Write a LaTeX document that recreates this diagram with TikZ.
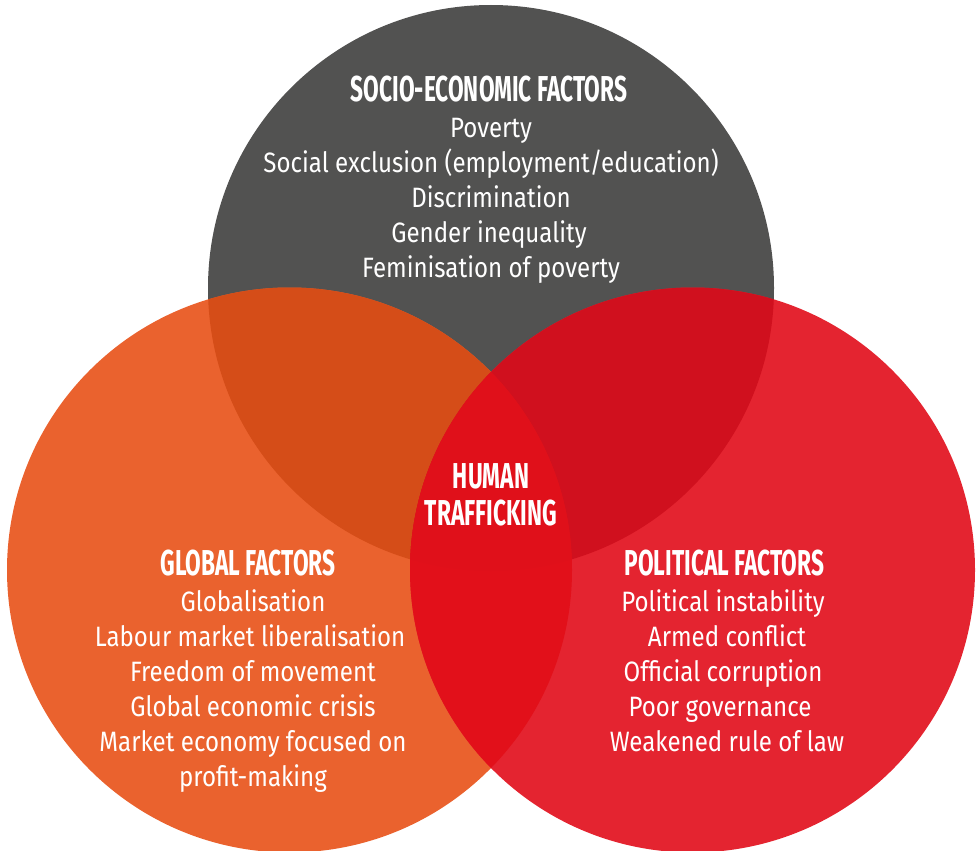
\documentclass[tikz,border=0pt]{standalone}
\usepackage{fontspec}
\setmainfont{Fira Sans}
\newfontfamily\bodyfont{Fira Sans}[FakeStretch=0.86]
\newfontfamily\headfont{Fira Sans}[FakeStretch=0.63]
\definecolor{cgrey}{HTML}{525251}
\definecolor{corange}{HTML}{EA622E}
\definecolor{cred}{HTML}{E42430}
\definecolor{cgo}{HTML}{D54D18}
\definecolor{cgr}{HTML}{D0101E}
\definecolor{cor}{HTML}{E2101A}
\definecolor{call}{HTML}{E0101A}
\tikzset{
  body/.style={text=white, anchor=base, inner sep=0pt, font=\bodyfont\fontsize{28}{34}\selectfont},
  head/.style={text=white, anchor=base, inner sep=0pt, font=\headfont\bfseries\fontsize{36}{40}\selectfont},
}
\begin{document}
\begin{tikzpicture}[x=1pt,y=-1pt]
\useasboundingbox (0,0) rectangle (980,851);
\def\topc{(491,288) circle (283)}
\def\leftc{(289.5,570) circle (282.5)}
\def\rightc{(692.5,570) circle (282.5)}
\fill[cgrey] \topc;
\fill[corange] \leftc;
\fill[cred] \rightc;
\begin{scope}\clip \topc; \fill[cgo] \leftc; \end{scope}
\begin{scope}\clip \topc; \fill[cgr] \rightc; \end{scope}
\begin{scope}\clip \leftc; \fill[cor] \rightc; \end{scope}
\begin{scope}\clip \topc; \clip \leftc; \fill[call] \rightc; \end{scope}
% top
\node[head] (th) at (489,102) {SOCIO-ECONOMIC FACTORS};
\node[body] (t1) at (491,137) {Poverty};
\node[body] (t2) at (491,172) {Social exclusion (employment/education)};
\node[body] (t3) at (491,207) {Discrimination};
\node[body] (t4) at (489,242) {Gender inequality};
\node[body] (t5) at (491,277) {Feminisation of poverty};
% centre
\node[head] (c1) at (491,488) {HUMAN};
\node[head] (c2) at (491,525) {TRAFFICKING};
% left
\node[head] (lh) at (248,575) {GLOBAL FACTORS};
\node[body] (l1) at (253,611) {Globalisation};
\node[body] (l2) at (250,646) {Labour market liberalisation};
\node[body] (l3) at (253,681) {Freedom of movement};
\node[body] (l4) at (253,716) {Global economic crisis};
\node[body] (l5) at (253,751) {Market economy focused on};
\node[body] (l6) at (253,786) {profit-making};
% right
\node[head] (rh) at (724.5,575) {POLITICAL FACTORS};
\node[body] (r1) at (723,611) {Political instability};
\node[body] (r2) at (727,646) {Armed conflict};
\node[body] (r3) at (723,681) {Official corruption};
\node[body] (r4) at (720,716) {Poor governance};
\node[body] (r5) at (727,751) {Weakened rule of law};
\end{tikzpicture}
\end{document}
